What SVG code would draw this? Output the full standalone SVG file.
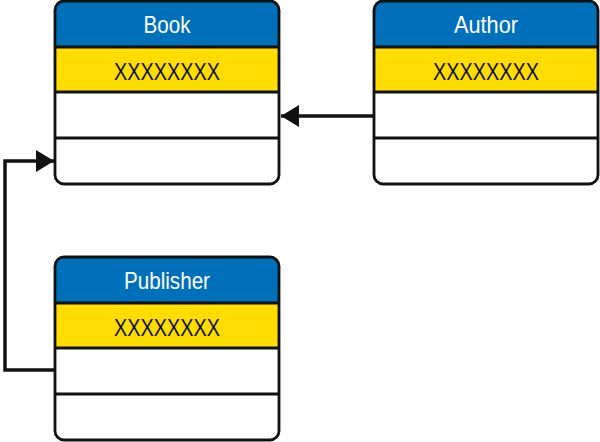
<svg xmlns="http://www.w3.org/2000/svg" width="600" height="442" viewBox="0 0 600 442">
<style>
.hdr{fill:#0070BA}
.key{fill:#FFDD00}
.row{fill:#FFFFFF}
.frame{fill:none;stroke:#111;stroke-width:2.8}
.div{stroke:#111;stroke-width:2.8}
.t{font-family:"Liberation Sans",Arial,sans-serif;font-size:24px;text-anchor:middle}
.tw{fill:#FFFFFF}
.tb{fill:#111}
.conn{fill:none;stroke:#111;stroke-width:3.5}
</style>
<defs>
<clipPath id="c"><rect x="0" y="0" width="224" height="183" rx="9"/></clipPath>
<marker id="ah" markerWidth="18" markerHeight="22" refX="18" refY="11" orient="auto" markerUnits="userSpaceOnUse">
<path d="M0,0 L18,11 L0,22 Z" fill="#111"/>
</marker>
</defs>
<rect width="600" height="442" fill="#fff"/>
<g id="book" transform="translate(55,1)">
<g clip-path="url(#c)">
<rect class="hdr" x="0" y="0" width="224" height="46"/>
<rect class="key" x="0" y="46" width="224" height="45"/>
<rect class="row" x="0" y="91" width="224" height="92"/>
</g>
<line class="div" x1="0" y1="46" x2="224" y2="46"/>
<line class="div" x1="0" y1="91" x2="224" y2="91"/>
<line class="div" x1="0" y1="137" x2="224" y2="137"/>
<rect class="frame" x="0" y="0" width="224" height="183" rx="9"/>
<text class="t tw" x="112" y="32" textLength="47" lengthAdjust="spacingAndGlyphs">Book</text>
<text class="t tb" x="112" y="79" textLength="106" lengthAdjust="spacingAndGlyphs">XXXXXXXX</text>
</g>
<g id="author" transform="translate(374,1)">
<g clip-path="url(#c)">
<rect class="hdr" x="0" y="0" width="224" height="46"/>
<rect class="key" x="0" y="46" width="224" height="45"/>
<rect class="row" x="0" y="91" width="224" height="92"/>
</g>
<line class="div" x1="0" y1="46" x2="224" y2="46"/>
<line class="div" x1="0" y1="91" x2="224" y2="91"/>
<line class="div" x1="0" y1="137" x2="224" y2="137"/>
<rect class="frame" x="0" y="0" width="224" height="183" rx="9"/>
<text class="t tw" x="112" y="32" textLength="64" lengthAdjust="spacingAndGlyphs">Author</text>
<text class="t tb" x="112" y="79" textLength="106" lengthAdjust="spacingAndGlyphs">XXXXXXXX</text>
</g>
<g id="publisher" transform="translate(55,257)">
<g clip-path="url(#c)">
<rect class="hdr" x="0" y="0" width="224" height="46"/>
<rect class="key" x="0" y="46" width="224" height="45"/>
<rect class="row" x="0" y="91" width="224" height="92"/>
</g>
<line class="div" x1="0" y1="46" x2="224" y2="46"/>
<line class="div" x1="0" y1="91" x2="224" y2="91"/>
<line class="div" x1="0" y1="137" x2="224" y2="137"/>
<rect class="frame" x="0" y="0" width="224" height="183" rx="9"/>
<text class="t tw" x="112" y="32" textLength="86" lengthAdjust="spacingAndGlyphs">Publisher</text>
<text class="t tb" x="112" y="79" textLength="106" lengthAdjust="spacingAndGlyphs">XXXXXXXX</text>
</g>
<g id="connectors">
<path class="conn" d="M374,116 L281,116" marker-end="url(#ah)"/>
<path class="conn" d="M55,370 L5,370 L5,161 L54,161" marker-end="url(#ah)"/>
</g>
</svg>
